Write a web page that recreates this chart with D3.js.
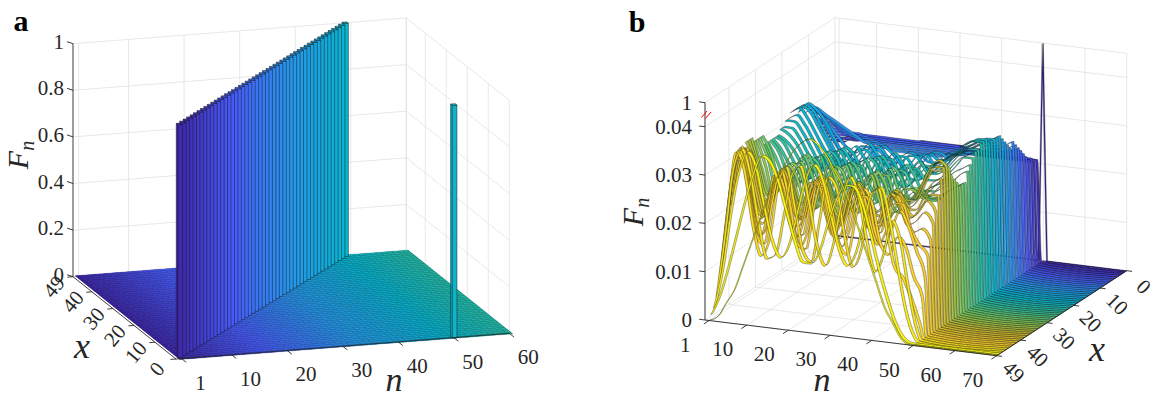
<!DOCTYPE html>
<html>
<head>
<meta charset="utf-8">
<script src="https://cdn.jsdelivr.net/npm/d3@7/dist/d3.min.js"></script>
<style>
  body { margin: 0; background: #fff; }
  svg { display: block; }
</style>
</head>
<body>
<svg width="1162" height="401"></svg>
<script>
// ---------- ticks ----------
const xTicks   = [0, 10, 20, 30, 40, 49];
const nTicksA  = [1, 10, 20, 30, 40, 50, 60];
const fTicksA  = [0, 0.2, 0.4, 0.6, 0.8, 1];
const fLabelsA = ['0', '0.2', '0.4', '0.6', '0.8', '1'];
const nTicksB  = [1, 10, 20, 30, 40, 50, 60, 70];
const fTicksB  = [0, 0.01, 0.02, 0.03, 0.04, 1];
const fLabelsB = ['0', '0.01', '0.02', '0.03', '0.04', '1'];

// ---------- panel a : step n where F_n = 1, for x = 0..49 ----------
const hitStepA = [50, 1, 2, 3, 4, 5, 6, 7, 8, 9, 10, 11, 12, 13, 14, 15, 16, 17, 18, 19,
  20, 21, 22, 23, 24, 25, 26, 27, 28, 29, 30, 31, 32, 33, 34, 35, 36, 37, 38, 39,
  40, 41, 42, 43, 44, 45, 46, 47, 48, 49];
const hitValueA = 1;

// ---------- panel b : F_n (units of 1e-3) at n = 1,3,...,49 for each x ----------
const nSampleB = [1, 3, 5, 7, 9, 11, 13, 15, 17, 19, 21, 23, 25, 27, 29, 31, 33, 35, 37, 39, 41, 43, 45, 47, 49];
const returnStepB = 50;   // x = 0 is detected with certainty at n = 50
const r01 = [20,20,21,21,21,21,21,21,21,21,22,22,22,22,22,22,21,21,21,21,21,21,21,21,21];
const r02 = [20,21,21,21,22,22,22,22,22,22,22,22,22,22,22,22,22,21,21,21,21,21,21,21,21];
const r03 = [21,21,22,22,22,22,22,22,22,22,22,22,22,22,22,22,22,22,22,22,22,22,22,22,22];
const r04 = [22,22,22,22,23,23,23,23,23,23,23,23,23,23,23,23,23,23,23,22,22,22,22,22,22];
const r05 = [23,23,23,23,23,23,23,23,23,23,23,23,23,23,23,23,23,23,23,23,23,23,23,23,23];
const r06 = [24,24,24,24,24,24,24,24,24,24,24,24,24,24,24,24,24,23,23,23,23,23,24,24,24];
const r07 = [25,25,25,24,24,24,24,24,24,24,24,24,24,24,24,24,24,24,24,24,24,24,24,25,25];
const r08 = [27,26,26,25,25,25,24,24,24,24,24,24,24,24,24,24,24,24,24,24,24,24,25,25,26];
const r09 = [28,27,27,26,25,25,25,24,24,24,24,24,24,24,24,24,24,24,24,24,25,25,25,26,27];
const r10 = [29,29,28,27,26,25,25,25,24,24,24,24,24,24,24,24,24,24,24,25,25,25,26,27,28];
const r11 = [30,30,29,28,27,26,25,25,25,24,24,24,24,24,24,24,24,24,25,25,25,26,26,26,27];
const r12 = [31,31,30,29,28,27,26,25,25,25,24,24,24,24,24,24,24,25,25,25,26,26,27,27,28];
const r13 = [30,31,30,28,26,24,23,24,25,24,23,22,23,24,24,23,23,24,25,26,26,27,28,28,29];
const r14 = [31,32,31,28,25,23,23,25,25,23,22,22,24,25,24,22,23,25,26,26,27,28,29,29,30];
const r15 = [31,33,32,30,27,24,23,22,23,25,26,25,23,21,22,24,26,26,25,26,27,28,29,30,31];
const r16 = [32,33,32,29,26,23,22,22,24,26,26,24,22,21,23,25,26,25,25,26,28,29,30,30,31];
const r17 = [32,33,32,29,26,23,22,23,25,27,25,23,21,22,24,26,26,24,24,26,28,29,30,31,31];
const r18 = [32,33,31,28,25,23,22,24,26,26,24,22,21,23,26,26,24,23,24,27,28,29,30,31,31];
const r19 = [31,32,30,27,24,22,23,25,27,25,22,21,23,26,26,24,22,23,25,27,28,30,31,31,31];
const r20 = [31,31,29,26,23,22,24,27,26,23,21,22,25,27,25,22,22,24,26,27,28,30,31,32,32];
const r21 = [30,30,28,25,23,22,25,27,25,22,20,23,26,26,23,21,23,25,26,27,28,29,31,32,32];
const r22 = [30,29,27,24,22,23,26,27,24,21,21,24,27,25,22,21,23,26,26,26,27,29,30,31,32];
const r23 = [29,28,26,23,21,23,27,26,22,20,22,26,27,23,20,22,25,27,25,25,26,28,30,31,31];
const r24 = [29,28,25,22,21,24,27,25,21,20,23,27,26,22,20,23,26,26,24,24,25,27,29,30,31];
const r25 = [29,27,24,21,21,25,27,24,20,21,25,27,24,20,21,25,27,25,22,23,24,26,28,30,30];
const r26 = [29,27,23,20,22,26,27,22,19,22,26,26,22,19,22,26,26,23,21,23,24,25,27,28,29];
const r27 = [29,26,22,20,23,27,26,21,19,23,27,25,20,19,23,27,25,21,21,23,23,24,25,27,28];
const r28 = [29,25,21,20,24,28,25,20,19,24,27,23,19,20,25,27,23,20,21,23,22,22,24,25,26];
const r29 = [31,28,22,20,25,28,24,19,20,26,27,22,18,21,26,26,21,19,22,24,22,22,24,25,26];
const r30 = [31,27,21,21,26,27,22,18,21,27,26,20,18,23,27,25,20,19,23,24,23,23,24,25,26];
const r31 = [31,26,20,22,27,26,21,18,22,27,25,19,19,24,27,23,19,20,24,25,23,24,26,27,27];
const r32 = [31,25,20,23,27,25,20,18,23,28,24,18,20,25,27,22,18,21,25,25,24,25,27,28,28];
const r33 = [32,26,21,22,26,24,20,21,25,25,21,20,23,25,23,20,22,24,24,23,25,28,30,30,29];
const r34 = [32,27,21,21,26,25,20,20,24,26,22,19,22,26,24,20,21,24,25,23,25,28,31,32,31];
const r35 = [32,28,21,20,26,26,21,19,23,27,23,19,21,26,25,21,20,23,26,24,24,27,31,33,32];
const r36 = [31,30,22,19,25,27,22,18,22,27,24,19,19,25,26,22,19,22,26,25,23,25,29,32,32];
const r37 = [29,31,23,18,23,28,24,18,20,26,26,20,18,23,27,23,19,20,25,26,23,23,26,29,30];
const r38 = [27,32,24,18,22,28,25,19,19,25,27,22,18,21,26,25,20,19,23,26,24,22,24,27,27];
const r39 = [25,32,24,19,23,28,23,18,21,27,26,20,18,23,27,24,19,20,25,26,23,22,24,26,24];
const r40 = [23,33,26,18,21,28,25,18,18,25,28,22,17,20,26,27,21,18,22,27,25,21,22,24,22];
const r41 = [21,32,28,19,18,26,28,20,16,21,28,26,19,17,22,28,25,19,19,25,27,23,20,21,19];
const r42 = [18,31,31,21,16,22,29,25,17,17,25,29,23,17,18,25,28,22,17,20,26,26,21,18,16];
const r43 = [15,29,33,24,16,18,27,29,21,15,19,28,28,20,16,20,27,27,20,17,21,25,22,17,12];
const r44 = [11,26,34,27,17,15,24,31,25,16,15,24,30,25,17,15,23,29,26,18,16,20,18,12,8];
const r45 = [7,22,34,30,19,13,17,28,32,24,15,13,22,31,29,19,13,17,27,30,22,14,12,8,3];
const r46 = [4,17,31,35,30,20,13,14,22,31,33,26,17,13,18,27,32,28,19,13,17,24,20,10,2];
const r47 = [2,10,22,31,35,32,24,17,14,17,24,31,34,31,24,17,14,17,24,30,31,25,15,6,1];
const r48 = [1,5,11,18,25,31,35,34,30,24,18,14,14,17,23,28,31,31,28,22,15,9,4,1,0];
const r49 = [0,1,4,7,12,17,22,27,31,34,37,39,40,39,37,34,31,27,22,17,12,7,4,1,0];

const rowsB = [r01, r02, r03, r04, r05, r06, r07, r08, r09, r10, r11, r12, r13, r14, r15, r16,
  r17, r18, r19, r20, r21, r22, r23, r24, r25, r26, r27, r28, r29, r30, r31, r32, r33, r34,
  r35, r36, r37, r38, r39, r40, r41, r42, r43, r44, r45, r46, r47, r48, r49];

// ---------- helpers ----------
const svg = d3.select('svg');
const fontFamily = '"Liberation Serif", "Times New Roman", "DejaVu Serif", serif';
const gridColor = '#dedede';
const axisColor = '#262626';
const edgeColor = '#141414';

const parula = d3.piecewise(d3.interpolateRgb,
  ['#3e26a8', '#475bf9', '#2796eb', '#08b5d0', '#32c29b', '#81cc59', '#d0be30', '#fccf30', '#f9fb0e']);

function makeProjection(origin, nEnd, xEnd, nScale, xScale, zScale) {
  return (n, x, f) => {
    const u = nScale(n), v = xScale(x);
    return [origin[0] + u * (nEnd[0] - origin[0]) + v * (xEnd[0] - origin[0]),
            origin[1] + u * (nEnd[1] - origin[1]) + v * (xEnd[1] - origin[1]) - zScale(f)];
  };
}
function seg(g, p, q, color, w) {
  g.append('line').attr('x1', p[0]).attr('y1', p[1]).attr('x2', q[0]).attr('y2', q[1])
    .attr('stroke', color).attr('stroke-width', w);
}
function poly(g, pts, fill, stroke, w) {
  const p = g.append('path').attr('d', d3.line()(pts) + 'Z').attr('fill', fill);
  if (stroke) p.attr('stroke', stroke).attr('stroke-width', w).attr('stroke-linejoin', 'round');
  return p;
}
function label(g, x, y, txt, size, anchor, rot) {
  const t = g.append('text').attr('x', x).attr('y', y)
    .style('font-family', fontFamily)
    .attr('text-anchor', anchor || 'middle').attr('dominant-baseline', 'central')
    .attr('font-size', size).attr('fill', axisColor).text(txt);
  if (rot) t.attr('transform', `rotate(${rot},${x},${y})`);
  return t;
}
function fnTitle(g, x, y) {
  const t = g.append('text').attr('transform', `translate(${x},${y}) rotate(-90)`)
    .style('font-family', fontFamily)
    .attr('text-anchor', 'middle').attr('font-style', 'italic').attr('fill', axisColor);
  t.append('tspan').attr('font-size', 30).text('F');
  t.append('tspan').attr('font-size', 20).attr('dy', 6).text('n');
}

// =================== panel a ===================
const nA = d3.scaleLinear().domain([0, 60]).range([0, 1]);
const xA = d3.scaleLinear().domain([0, 49]).range([0, 1]);
const zA = d3.scaleLinear().domain([0, 1]).range([0, 233]);
const pA = makeProjection([176, 359], [509.3, 333.3], [73, 276.7], nA, xA, zA);
const colA = d3.scaleSequential(parula).domain([0, 130]);

const gA = svg.append('g');
// back wall (x = 49) and right wall (n = 60) grid
nTicksA.forEach(n => seg(gA, pA(n, 49, 0), pA(n, 49, 1), gridColor, 0.7));
fTicksA.forEach(f => seg(gA, pA(0, 49, f), pA(60, 49, f), gridColor, 0.7));
xTicks.forEach(x => seg(gA, pA(60, x, 0), pA(60, x, 1), gridColor, 0.7));
fTicksA.forEach(f => seg(gA, pA(60, 0, f), pA(60, 49, f), gridColor, 0.7));
nTicksA.forEach(n => seg(gA, pA(n, 0, 0), pA(n, 49, 0), gridColor, 0.7));
xTicks.forEach(x => seg(gA, pA(0, x, 0), pA(60, x, 0), gridColor, 0.7));

// bar3 style: zero bars are flat squares on the floor
const hw = 0.42;
const nColsA = d3.range(1, 61);
nColsA.forEach(n => {
  poly(gA, [pA(n - 0.5, -0.42, 0), pA(n + 0.5, -0.42, 0), pA(n + 0.5, 49.42, 0), pA(n - 0.5, 49.42, 0)],
    d3.color(colA(n)).darker(0.9));
});
hitStepA.forEach((hit, x) => {
  nColsA.forEach(n => {
    if (n === hit) return;
    const c = colA(n);
    poly(gA, [pA(n - hw, x - hw, 0), pA(n + hw, x - hw, 0), pA(n + hw, x + hw, 0), pA(n - hw, x + hw, 0)],
      c, d3.color(c).darker(1.4), 0.3);
  });
});
const barsA = hitStepA.map((n, x) => ({ x, n, f: hitValueA }))
  .sort((a, b) => (b.n + 2.65 * b.x) - (a.n + 2.65 * a.x));
barsA.forEach(b => {
  const n0 = b.n - hw, n1 = b.n + hw, x0 = b.x - hw, x1 = b.x + hw, c = colA(b.n);
  poly(gA, [pA(n0, x0, 0), pA(n0, x1, 0), pA(n0, x1, b.f), pA(n0, x0, b.f)], c, edgeColor, 0.45);
  poly(gA, [pA(n0, x0, 0), pA(n1, x0, 0), pA(n1, x0, b.f), pA(n0, x0, b.f)], c, edgeColor, 0.45);
  poly(gA, [pA(n0, x0, b.f), pA(n1, x0, b.f), pA(n1, x1, b.f), pA(n0, x1, b.f)], c, edgeColor, 0.45);
});

// axes a
seg(gA, pA(0, 49, 0), pA(0, 49, 1), axisColor, 0.9);
seg(gA, pA(0, 0, 0), pA(60, 0, 0), axisColor, 0.9);
seg(gA, pA(0, 0, 0), pA(0, 49, 0), axisColor, 0.9);
fTicksA.forEach((f, i) => {
  const p = pA(0, 49, f);
  seg(gA, p, [p[0] - 6, p[1] - 2], axisColor, 0.9);
  label(gA, 64, p[1] - 2, fLabelsA[i], 21, 'end');
});
nTicksA.forEach(n => {
  const p = pA(n, 0, 0);
  seg(gA, p, pA(n, -2.2, 0), axisColor, 0.9);
  label(gA, p[0] + 19, p[1] + 24, String(n), 21);
});
xTicks.forEach(x => {
  const p = pA(0, x, 0);
  seg(gA, p, pA(-1, x, 0), axisColor, 0.9);
  label(gA, p[0] - 19, p[1] + 10, String(x), 21, 'middle', -50);
});
fnTitle(gA, 28, 155);
label(gA, 82, 346, 'x', 36).attr('font-style', 'italic');
label(gA, 394, 379, 'n', 34).attr('font-style', 'italic');
label(gA, 21, 20, 'a', 30).attr('font-weight', 'bold').attr('fill', '#000');

// =================== panel b ===================
const nB = d3.scaleLinear().domain([0, 70]).range([0, 1]);
const xB = d3.scaleLinear().domain([0, 49]).range([0, 1]);
const zB = d3.scaleLinear().domain([0, 0.045, 1]).range([0, 217.4, 217.4]);
const pB = makeProjection([835, 235], [1126.7, 270.7], [705, 320], nB, xB, zB);
const colB = d3.scaleSequential(parula).domain([0, 49]);

const gB = svg.append('g');
// back wall (x = 0), left wall (n = 0), floor grid
nTicksB.forEach(n => seg(gB, pB(n, 0, 0), pB(n, 0, 1), gridColor, 0.7));
fTicksB.forEach(f => seg(gB, pB(0, 0, f), pB(70, 0, f), gridColor, 0.7));
xTicks.forEach(x => seg(gB, pB(0, x, 0), pB(0, x, 1), gridColor, 0.7));
fTicksB.forEach(f => seg(gB, pB(0, 0, f), pB(0, 49, f), gridColor, 0.7));
nTicksB.forEach(n => seg(gB, pB(n, 0, 0), pB(n, 49, 0), gridColor, 0.7));
xTicks.forEach(x => seg(gB, pB(0, x, 0), pB(70, x, 0), gridColor, 0.7));

// floor underlay where every ribbon is zero
d3.range(0, 50).forEach(x => {
  poly(gB, [pB(returnStepB, Math.max(0, x - 0.5), 0), pB(70, Math.max(0, x - 0.5), 0),
            pB(70, Math.min(49, x + 0.5), 0), pB(returnStepB, Math.min(49, x + 0.5), 0)],
    d3.color(colB(x)).darker(0.9));
});

// ribbons, back (x = 0) to front (x = 49)
const rw = 0.43;
const floorSteps = d3.range(returnStepB, 71);
function ribbon(pts, x, curve) {
  const x0 = Math.max(0, x - rw), x1 = Math.min(49, x + rw);
  const c = colB(x);
  const area = d3.area().curve(curve)
    .x1(d => pB(d.n, x0, d.f)[0]).y1(d => pB(d.n, x0, d.f)[1])
    .x0(d => pB(d.n, x1, d.f)[0]).y0(d => pB(d.n, x1, d.f)[1]);
  gB.append('path').attr('d', area(pts))
    .attr('fill', c).attr('stroke', edgeColor).attr('stroke-width', 0.35)
    .attr('stroke-linejoin', 'round');
  floorSteps.forEach(n => seg(gB, pB(n, x0, 0), pB(n, x1, 0), d3.color(c).darker(1.4), 0.4));
}
ribbon([{ n: 0, f: 0 }, { n: returnStepB - 1, f: 0 }, { n: returnStepB, f: 1 },
        { n: returnStepB + 1, f: 0 }, { n: 70, f: 0 }], 0, d3.curveLinear);
rowsB.forEach((row, i) => {
  const pts = nSampleB.map((n, j) => ({ n, f: row[j] / 1000 }));
  pts.push({ n: returnStepB, f: 0 }, { n: 70, f: 0 });
  ribbon(pts, i + 1, d3.curveMonotoneX);
});

// axes b
seg(gB, pB(0, 49, 0), pB(0, 49, 1), axisColor, 0.9);
seg(gB, pB(0, 49, 0), pB(70, 49, 0), axisColor, 0.9);
seg(gB, pB(70, 0, 0), pB(70, 49, 0), axisColor, 0.9);
fTicksB.forEach((f, i) => {
  const p = pB(0, 49, f);
  seg(gB, p, pB(-1.4, 49, f), axisColor, 0.9);
  label(gB, 692, p[1], fLabelsB[i], 21, 'end');
});
nTicksB.forEach(n => {
  const p = pB(n, 49, 0);
  seg(gB, p, pB(n, 51, 0), axisColor, 0.9);
  label(gB, p[0] - 24, p[1] + 24, String(n), 21);
});
xTicks.forEach(x => {
  const p = pB(70, x, 0);
  seg(gB, p, pB(71.3, x, 0), axisColor, 0.9);
  label(gB, p[0] + 17, p[1] + 16, String(x), 21, 'middle', 45);
});
// axis break mark
seg(gB, [701.5, 117.5], [707, 111], '#ff0000', 1);
seg(gB, [705.5, 118.5], [711, 112], '#ff0000', 1);

fnTitle(gB, 643, 212);
label(gB, 822, 379, 'n', 34).attr('font-style', 'italic');
label(gB, 1097, 349, 'x', 36).attr('font-style', 'italic');
label(gB, 637, 21, 'b', 30).attr('font-weight', 'bold').attr('fill', '#000');
</script>
</body>
</html>
